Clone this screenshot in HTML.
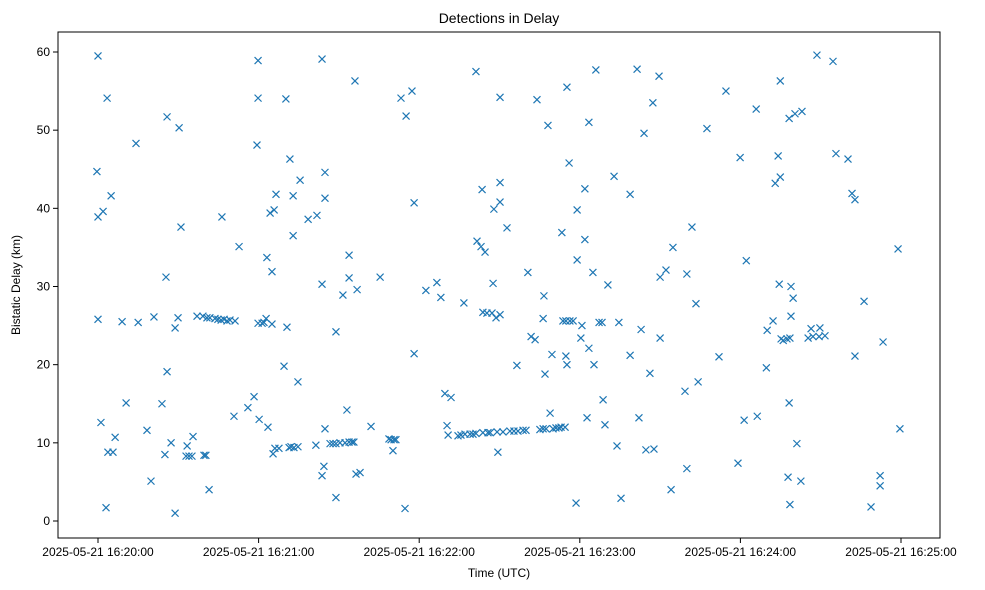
<!DOCTYPE html>
<html><head><meta charset="utf-8"><style>
body{margin:0;background:#fff}
svg{display:block;font-family:"Liberation Sans","DejaVu Sans",sans-serif}
</style></head><body>
<svg id="chart" width="985" height="590" xmlns="http://www.w3.org/2000/svg">
<rect width="985" height="590" fill="#fff"/>
<text x="499" y="23" text-anchor="middle" font-size="14">Detections in Delay</text>
<text x="499" y="577" text-anchor="middle" font-size="12">Time (UTC)</text>
<text transform="translate(20,285) rotate(-90)" text-anchor="middle" font-size="12">Bistatic Delay (km)</text>
<g id="axes"></g>
<g id="marks"></g>
<rect x="58" y="32" width="882" height="506" fill="none" stroke="#000" stroke-width="1"/>
</svg>
<script>
// seconds after 2025-05-21 16:20:00 UTC
const times = [-0.4,0,0,0,1.1,1.9,3.0,3.4,3.7,4.9,5.6,6.4,9.0,10.5,14.2,15.0,18.3,19.8,20.9,23.9,25.0,25.4,25.8,25.8,27.3,28.8,28.8,29.9,30.3,31.0,32.9,33.3,34.0,35.1,35.5,37.0,39.6,40.3,39.2,40.7,41.5,41.8,43.7,44.8,46.0,46.3,47.1,48.2,49.3,50.8,51.2,52.7,56.0,58.3,59.4,59.8,59.8,59.8,60.2,61.3,62.0,62.8,63.1,63.5,64.3,65.0,65.0,65.4,65.8,66.1,66.5,67.6,69.5,70.2,70.6,71.4,71.7,72.1,72.9,72.9,73.2,74.7,74.7,75.5,78.5,81.4,81.8,83.7,83.7,83.7,84.4,84.8,84.8,84.8,86.7,87.8,88.9,88.9,88.9,90.4,91.5,92.3,93.0,93.8,93.8,93.8,94.9,95.6,96.0,96.4,96.8,97.9,102.0,105.4,108.7,109.5,110.2,110.6,111.3,113.2,114.7,115.1,117.3,118.1,118.1,122.5,126.6,128.1,129.6,130.4,130.8,131.9,134.5,135.6,136.7,137.1,139.0,140.1,141.2,141.2,141.6,143.1,143.5,143.8,143.8,144.6,145.3,145.7,146.5,147.2,147.6,147.9,148.7,149.1,149.4,150.2,150.2,150.2,150.2,151.3,152.8,153.9,155.4,156.5,156.9,158.8,159.9,160.6,161.8,163.3,164.0,165.1,166.3,166.3,166.6,167.0,167.4,168.1,168.9,169.6,170.0,171.1,172.2,173.0,173.3,173.7,174.5,174.8,174.8,175.2,175.2,176.0,176.3,177.5,178.6,179.0,179.0,180.4,180.8,181.9,181.9,182.7,183.4,183.4,184.9,185.3,186.0,187.2,188.3,188.7,189.4,190.5,192.8,193.9,194.6,195.4,198.8,198.8,201.4,202.1,202.9,204.0,204.7,206.2,207.3,207.7,209.6,210.0,210.0,212.2,214.1,214.8,219.3,220.0,220.0,221.9,223.4,224.2,227.5,232.0,234.6,239.1,239.9,242.2,241.4,245.9,246.3,249.7,250.0,252.2,253.0,254.1,254.5,254.9,255.2,254.9,256.0,257.4,257.8,258.2,258.5,258.5,258.2,258.9,258.9,259.7,260.4,261.1,262.6,263.0,265.3,266.4,267.1,268.6,269.4,269.7,271.6,274.6,275.7,280.2,281.7,282.8,282.8,286.2,288.8,292.2,292.2,293.3,298.9,299.6];
const delays = [44.7,59.5,38.9,25.8,12.6,39.6,1.7,54.1,8.8,41.6,8.8,10.7,25.5,15.1,48.3,25.4,11.6,5.1,26.1,15.0,8.5,31.2,51.7,19.1,10.0,24.7,1.0,26.0,50.3,37.6,8.3,9.6,8.3,8.3,10.8,26.2,8.4,8.4,26.2,26.0,4.0,26.0,25.9,25.8,25.7,38.9,25.8,25.6,25.7,13.4,25.6,35.1,14.5,15.9,48.1,54.1,58.9,25.3,13.0,25.3,25.4,25.9,33.7,12.0,39.4,31.9,25.2,8.6,39.8,9.3,41.8,9.3,19.8,54.0,24.8,9.4,46.3,9.5,41.6,36.5,9.4,9.5,17.8,43.6,38.6,9.7,39.1,59.1,30.3,5.8,7.0,11.8,44.6,41.3,9.9,9.9,3.0,24.2,9.9,10.0,28.9,10.0,14.2,31.1,34.0,10.1,10.1,10.1,56.3,6.0,29.6,6.2,12.1,31.2,10.5,10.4,9.0,10.4,10.4,54.1,1.6,51.8,55.0,21.4,40.7,29.5,30.5,28.6,16.3,12.2,11.0,15.8,10.9,11.0,27.9,11.1,11.1,11.1,57.5,11.2,35.8,35.1,42.4,11.3,26.7,34.4,26.6,11.3,11.3,26.6,30.4,39.9,26.0,11.4,8.8,40.8,43.3,54.2,26.4,11.4,37.5,11.5,11.5,19.9,11.5,11.6,11.6,31.8,23.6,23.2,53.9,11.7,25.9,11.8,28.8,18.8,11.8,50.6,13.8,21.3,11.8,11.9,11.9,12.0,36.9,25.6,12.0,25.6,21.1,20.0,55.5,45.8,25.6,25.6,2.3,39.8,33.4,23.4,25.0,42.5,36.0,13.2,22.1,51.0,31.8,20.0,57.7,25.4,25.4,15.5,12.3,30.2,44.1,9.6,25.4,2.9,41.8,21.2,57.8,13.2,24.5,49.6,9.1,18.9,53.5,9.2,56.9,31.2,23.4,32.1,4.0,35.0,16.6,31.6,6.7,37.6,27.8,17.8,50.2,21.0,55.0,7.4,46.5,33.3,12.9,52.7,13.4,19.6,24.4,25.6,43.2,46.7,30.3,44.0,23.3,56.3,23.1,23.3,5.6,51.5,2.1,23.4,15.1,26.2,30.0,28.5,52.1,9.9,5.1,52.4,23.4,24.6,23.6,59.6,23.6,24.7,23.7,58.8,47.0,46.3,41.9,41.1,21.1,28.1,1.8,4.5,5.8,22.9,34.8,11.8];
const yTicks = [0,10,20,30,40,50,60];
const xTicks = [0,60,120,180,240,300];
const xTickLabels = ["2025-05-21 16:20:00","2025-05-21 16:21:00","2025-05-21 16:22:00","2025-05-21 16:23:00","2025-05-21 16:24:00","2025-05-21 16:25:00"];

const NS = "http://www.w3.org/2000/svg";
function xs(s){ return 98 + s * (803 / 300); }
function ys(v){ return 521 - v * (469 / 60); }
const axes = document.getElementById('axes');
const marks = document.getElementById('marks');
function mk(tag, attrs, parent){ const e = document.createElementNS(NS, tag); for (const k in attrs) e.setAttribute(k, attrs[k]); parent.appendChild(e); return e; }

yTicks.forEach(function(v){
  const y = ys(v);
  const t = mk('line', {x1:53, x2:58, y1:y, y2:y, stroke:'#000'}, axes);
  
  
  const l = mk('text', {x:50, y:y + 4, 'text-anchor':'end', 'font-size':12}, axes);
  l.textContent = v;
  
  
});
xTicks.forEach(function(s, i){
  const x = xs(s);
  const t = mk('line', {x1:x, x2:x, y1:538, y2:543, stroke:'#000'}, axes);
  
  
  const l = mk('text', {x:x, y:556, 'text-anchor':'middle', 'font-size':12}, axes);
  l.textContent = xTickLabels[i];
  
  
});
times.forEach(function(s, i){
  const x = xs(s), y = ys(delays[i]), r = 3.5;
  const p = mk('path', {d:'M'+(x-r)+' '+(y-r)+'L'+(x+r)+' '+(y+r)+'M'+(x-r)+' '+(y+r)+'L'+(x+r)+' '+(y-r), stroke:'#1f77b4', 'stroke-width':1.2, fill:'none'}, marks);
  
  
});
</script>
</body></html>
